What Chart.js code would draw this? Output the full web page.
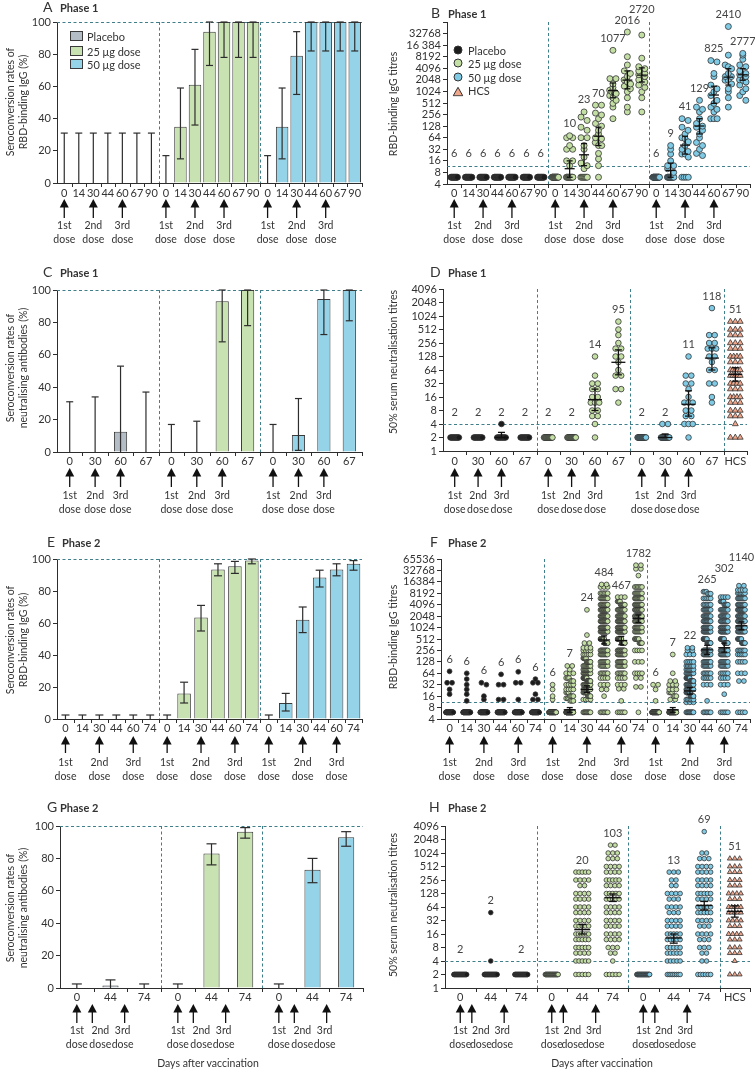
<!DOCTYPE html>
<html>
<head>
<meta charset="utf-8">
<title>Seroconversion rates and titres, phase 1 and phase 2</title>
<script src="https://cdn.jsdelivr.net/npm/chart.js@4.4.1/dist/chart.umd.min.js"></script>
<style>
  body { margin: 0; background: #fff; }
  #page { position: relative; width: 755px; height: 1072px; overflow: hidden; background: #fff;
          font-family: Lato, "Open Sans", "DejaVu Sans", sans-serif; color: #333; }
  #page canvas { position: absolute; left: 0; top: 0; }
  .lbl { position: absolute; white-space: nowrap; line-height: 1; transform: translate(0, -50%); font-size: 11px; }
  .ytitle { position: absolute; white-space: nowrap; line-height: 13px; text-align: center; font-size: 10.5px;
            transform: translate(-50%, -50%) rotate(-90deg); }
  .letter { font-size: 14px; }
  .phase { font-size: 11px; font-weight: bold; }
  .sw { position: absolute; width: 13px; height: 10px; border: 1px solid #3a3a3a; box-sizing: border-box; transform: translate(0, -50%); }
  .dot { position: absolute; width: 9px; height: 9px; border-radius: 50%; border: 1px solid #333; box-sizing: border-box; transform: translate(-50%, -50%); }
  .tri { position: absolute; transform: translate(-50%, -50%); }
</style>
</head>
<body>
<div id="page"></div>
<script>
// ---------- data ----------

// day labels
const daysP1Igg = ['0', '14', '30', '44', '60', '67', '90'];
const daysP1Nab = ['0', '30', '60', '67'];
const daysP2Igg = ['0', '14', '30', '44', '60', '74'];
const daysP2Nab = ['0', '44', '74'];

// A: phase 1 seroconversion, RBD-binding IgG (%), with 95% CI
const seroA_placebo = [0, 0, 0, 0, 0, 0, 0];
const seroA_placeboLo = [0, 0, 0, 0, 0, 0, 0];
const seroA_placeboHi = [31, 31, 31, 31, 31, 31, 31];
const seroA_25 = [0, 35, 61, 94, 100, 100, 100];
const seroA_25Lo = [0, 15, 36, 73, 78, 78, 78];
const seroA_25Hi = [17, 59, 83, 100, 100, 100, 100];
const seroA_50 = [0, 35, 79, 100, 100, 100, 100];
const seroA_50Lo = [0, 15, 55, 82, 82, 82, 82];
const seroA_50Hi = [17, 59, 94, 100, 100, 100, 100];

// C: phase 1 seroconversion, neutralising antibodies (%)
const seroC_placebo = [0, 0, 12.5, 0];
const seroC_placeboLo = [0, 0, 0, 0];
const seroC_placeboHi = [31, 34, 53, 37];
const seroC_25 = [0, 0, 93, 100];
const seroC_25Lo = [0, 0, 68, 78];
const seroC_25Hi = [17, 19, 100, 100];
const seroC_50 = [0, 10.5, 94.5, 100];
const seroC_50Lo = [0, 1, 72.5, 81];
const seroC_50Hi = [17, 33, 100, 100];

// E: phase 2 seroconversion, RBD-binding IgG (%)
const seroE_placebo = [0, 0, 0, 0, 0, 0];
const seroE_placeboLo = [0, 0, 0, 0, 0, 0];
const seroE_placeboHi = [2.5, 2.5, 2.5, 2.5, 2.5, 2.5];
const seroE_25 = [0, 16, 63.5, 93.5, 95.5, 99];
const seroE_25Lo = [0, 10, 55, 89.5, 91, 97];
const seroE_25Hi = [2.5, 23, 71, 97, 98.5, 100];
const seroE_50 = [0, 10, 62, 88.5, 93.5, 97];
const seroE_50Lo = [0, 5, 54, 82.5, 89.5, 93];
const seroE_50Hi = [2.5, 16, 70, 93, 97, 99];

// G: phase 2 seroconversion, neutralising antibodies (%)
const seroG_placebo = [0, 1.5, 0];
const seroG_placeboLo = [0, 0, 0];
const seroG_placeboHi = [2.5, 5, 2.5];
const seroG_25 = [0, 83, 96.5];
const seroG_25Lo = [0, 76, 92.5];
const seroG_25Hi = [2.5, 89, 99];
const seroG_50 = [0, 73, 93];
const seroG_50Lo = [0, 65, 87.5];
const seroG_50Hi = [2.5, 80, 96.5];

// individual titres as [titre, number of participants] per day
// B: phase 1 RBD-binding IgG titres
const titreB_placebo = [
  [[6, 10]], [[6, 10]], [[6, 10]], [[6, 10]], [[6, 10]], [[6, 10]], [[6, 10]]
];
const titreB_25 = [
  [[6, 20]],
  [[72, 1], [64, 2], [40, 1], [32, 2], [16, 2], [12, 1], [6, 11]],
  [[300, 1], [220, 1], [180, 1], [120, 1], [100, 1], [64, 2], [40, 1], [32, 1], [20, 1], [14, 1], [12, 1], [10, 1], [6, 7]],
  [[450, 2], [280, 1], [250, 1], [200, 1], [150, 1], [128, 1], [100, 1], [80, 1], [64, 1], [60, 1], [48, 1], [40, 2], [25, 1], [18, 1], [12, 1], [6, 1]],
  [[12000, 1], [2200, 2], [1600, 1], [1300, 1], [1100, 1], [1000, 2], [900, 1], [800, 1], [700, 1], [600, 1], [500, 1], [400, 1], [200, 1]],
  [[36000, 1], [8192, 1], [5000, 1], [3500, 1], [3000, 1], [2500, 1], [2048, 1], [1800, 1], [1600, 1], [1400, 1], [1200, 1], [1000, 1], [700, 1], [400, 1], [300, 1]],
  [[30000, 1], [7500, 1], [4500, 1], [4000, 1], [3500, 1], [3000, 1], [2800, 1], [2500, 1], [2048, 1], [1800, 1], [1500, 1], [1300, 1], [1000, 1], [700, 1], [300, 1]]
];
const titreB_50 = [
  [[6, 20]],
  [[40, 1], [32, 1], [24, 1], [16, 1], [12, 2], [10, 1], [8, 1], [6, 12]],
  [[200, 1], [180, 1], [120, 1], [100, 1], [80, 1], [64, 1], [60, 1], [50, 1], [40, 1], [32, 1], [28, 1], [24, 2], [20, 1], [6, 4]],
  [[600, 1], [400, 1], [350, 1], [300, 1], [200, 1], [150, 1], [128, 1], [120, 1], [100, 1], [80, 1], [64, 1], [48, 1], [40, 1], [32, 1], [25, 1], [22, 1]],
  [[6500, 1], [6000, 1], [3000, 1], [2500, 1], [1500, 1], [1200, 1], [1000, 1], [800, 1], [600, 1], [500, 1], [400, 1], [350, 1], [300, 1], [200, 3]],
  [[50000, 1], [9000, 1], [5000, 1], [4500, 1], [4000, 1], [3000, 1], [2500, 2], [2000, 2], [1600, 1], [1200, 1], [1000, 1], [700, 1], [400, 1]],
  [[10000, 1], [9000, 1], [7000, 1], [5000, 1], [4500, 1], [3500, 1], [3000, 1], [2800, 1], [2500, 1], [2048, 1], [2000, 1], [1800, 1], [1500, 1], [1200, 1], [1000, 1], [800, 1], [600, 1]]
];
const gmtB_placebo = [6, 6, 6, 6, 6, 6, 6];
const gmtB_25 = [null, 10, 23, 70, 1077, 2016, 2720];
const gmtB_50 = [6, 9, 41, 129, 825, 2410, 2777];
const ciB_25 = [null, [6, 16], [12, 45], [40, 120], [700, 1700], [1200, 3500], [1800, 4200]];
const ciB_50 = [null, [6, 14], [24, 70], [80, 200], [500, 1400], [1500, 4000], [2000, 4000]];

// D: phase 1 50% serum neutralisation titres
const titreD_placebo = [[[2, 10]], [[2, 10]], [[4, 1], [2, 9]], [[2, 10]]];
const titreD_25 = [
  [[2, 20]], [[2, 20]],
  [[128, 1], [48, 1], [32, 2], [24, 2], [16, 2], [12, 3], [8, 2], [6, 2], [4, 1], [2, 1]],
  [[768, 1], [512, 1], [384, 1], [256, 1], [192, 2], [128, 2], [96, 1], [64, 1], [48, 2], [24, 2], [12, 1]]
];
const titreD_50 = [
  [[2, 20]], [[4, 2], [2, 18]],
  [[128, 1], [48, 2], [32, 2], [24, 1], [16, 1], [12, 3], [8, 2], [6, 2], [4, 3], [2, 1]],
  [[1536, 1], [384, 2], [256, 2], [192, 3], [128, 2], [96, 1], [64, 2], [32, 2], [16, 1], [12, 1]]
];
const titreHCS = [[768, 3], [512, 3], [384, 3], [256, 3], [192, 3], [128, 4], [96, 3], [64, 5], [48, 5], [32, 4], [24, 3], [16, 4], [12, 3], [8, 3], [6, 3], [4, 1], [2, 3]];
const gmtD_placebo = [2, 2, 2, 2];
const gmtD_25 = [2, 2, 14, 95];
const gmtD_50 = [2, 2, 11, 118];
const ciD_placebo = [null, null, [2, 2.6], null];
const ciD_25 = [null, null, [8, 24], [50, 180]];
const ciD_50 = [null, [2, 2.4], [6, 22], [64, 200]];
const gmtHCS = 51;
const ciHCS = [36, 72];

// F: phase 2 RBD-binding IgG titres
const titreF_placebo = [
  [[72, 1], [36, 2], [24, 1], [18, 1], [6, 40]],
  [[64, 1], [45, 1], [32, 1], [24, 1], [18, 1], [12, 1], [6, 40]],
  [[36, 1], [32, 1], [16, 1], [13, 1], [6, 40]],
  [[60, 1], [32, 2], [13, 2], [6, 40]],
  [[70, 1], [36, 2], [13, 1], [6, 40]],
  [[45, 1], [36, 2], [18, 1], [13, 2], [6, 40]]
];
const titreF_25 = [
  [[32, 1], [24, 1], [16, 1], [13, 1], [6, 40]],
  [[100, 2], [80, 1], [64, 3], [48, 3], [40, 3], [32, 4], [24, 4], [20, 3], [16, 4], [14, 3], [12, 3], [6, 60]],
  [[3000, 1], [650, 1], [400, 2], [300, 3], [256, 4], [200, 5], [160, 6], [128, 8], [100, 9], [80, 10], [64, 12], [48, 12], [40, 12], [32, 12], [24, 10], [20, 8], [16, 6], [13, 4], [6, 10]],
  [[14000, 2], [12000, 3], [8192, 6], [6000, 8], [4096, 10], [3000, 12], [2048, 14], [1500, 14], [1024, 14], [800, 14], [512, 14], [400, 12], [256, 10], [200, 9], [128, 8], [100, 7], [64, 6], [48, 4], [32, 3], [24, 2], [16, 1], [6, 6]],
  [[6500, 3], [5000, 5], [4096, 8], [3000, 10], [2048, 12], [1500, 14], [1024, 14], [800, 14], [512, 14], [400, 12], [256, 12], [200, 10], [128, 9], [100, 7], [64, 6], [48, 4], [32, 3], [25, 2], [12, 1], [6, 5]],
  [[45000, 2], [36000, 2], [24000, 1], [12000, 6], [8192, 8], [6000, 10], [4096, 12], [3000, 12], [2048, 12], [1500, 10], [1024, 9], [800, 8], [512, 7], [400, 5], [256, 4], [128, 3], [64, 4], [48, 2], [28, 2], [6, 1]]
];
const titreF_50 = [
  [[32, 2], [24, 1], [12, 1], [6, 40]],
  [[200, 1], [64, 1], [40, 2], [32, 3], [24, 3], [20, 3], [16, 3], [13, 2], [6, 50]],
  [[300, 2], [256, 2], [200, 3], [128, 5], [100, 6], [80, 7], [64, 9], [48, 10], [40, 10], [32, 12], [24, 12], [20, 10], [16, 8], [13, 6], [11, 3], [6, 10]],
  [[9000, 3], [8000, 3], [6000, 5], [4096, 6], [3000, 8], [2048, 10], [1500, 10], [1024, 12], [800, 12], [512, 12], [400, 12], [256, 12], [200, 10], [128, 8], [100, 7], [64, 6], [48, 5], [32, 3], [12, 1], [6, 6]],
  [[6500, 4], [5000, 5], [4096, 6], [3000, 8], [2048, 10], [1500, 10], [1024, 12], [800, 12], [512, 12], [400, 12], [256, 10], [200, 9], [128, 8], [100, 7], [64, 5], [48, 4], [32, 3], [18, 1], [6, 5]],
  [[13000, 2], [10000, 4], [8192, 6], [6000, 8], [4096, 10], [3000, 12], [2048, 12], [1500, 12], [1024, 12], [800, 10], [512, 9], [400, 8], [256, 6], [200, 5], [128, 4], [64, 3], [40, 2], [6, 4]]
];
const gmtF_placebo = [6, 6, 6, 6, 6, 6];
const gmtF_25 = [6, 7, 24, 484, 467, 1782];
const gmtF_50 = [6, 7, 22, 265, 302, 1140];
const ciF_25 = [null, [6, 8], [20, 30], [380, 620], [360, 600], [1400, 2200]];
const ciF_50 = [null, [6, 8], [18, 27], [200, 350], [230, 400], [900, 1450]];

// H: phase 2 50% serum neutralisation titres
const titreH_placebo = [[[2, 30]], [[48, 1], [4, 1], [2, 30]], [[2, 30]]];
const titreH_25 = [
  [[2, 30]],
  [[384, 5], [256, 4], [192, 2], [128, 4], [96, 4], [64, 4], [48, 4], [32, 4], [24, 5], [16, 6], [12, 5], [8, 5], [6, 4], [4, 5], [2, 5]],
  [[1536, 2], [1024, 3], [768, 3], [512, 4], [384, 4], [256, 5], [192, 4], [128, 5], [96, 5], [64, 4], [48, 4], [32, 4], [24, 4], [16, 4], [12, 4], [8, 3], [6, 2], [4, 1], [2, 5]]
];
const titreH_50 = [
  [[2, 30]],
  [[384, 3], [256, 2], [192, 2], [128, 4], [96, 3], [64, 4], [48, 3], [32, 4], [24, 4], [16, 5], [12, 5], [8, 5], [6, 5], [4, 5], [2, 8]],
  [[3072, 1], [1024, 2], [768, 3], [512, 4], [384, 4], [256, 4], [192, 4], [128, 5], [96, 4], [64, 5], [48, 5], [32, 4], [24, 3], [16, 4], [12, 3], [8, 3], [6, 2], [4, 2], [2, 6]]
];
const gmtH_placebo = [2, 2, 2];
const gmtH_25 = [null, 20, 103];
const gmtH_50 = [null, 13, 69];
const ciH_25 = [null, [16, 26], [85, 125]];
const ciH_50 = [null, [10, 16], [55, 85]];

// axis ticks
const ticksIgg = [4, 8, 16, 32, 64, 128, 256, 512, 1024, 2048, 4096, 8192, 16384, 32768, 65536];
const ticksNab = [1, 2, 4, 8, 16, 32, 64, 128, 256, 512, 1024, 2048, 4096];

// ---------- styling ----------
const FONT = 'Lato, "Open Sans", "DejaVu Sans", sans-serif';
const INK = '#2d2d2d';
const DASH = '#3f7f8b';
const BAR_P = '#b4bdc5', BAR_25 = '#c9e2b1', BAR_50 = '#95d3e8';
const DOT_P = '#1c1c1c', DOT_25 = '#c4dfa4', DOT_50 = '#7fcbe6', DOT_HCS = '#f0a78b';
const YW = 40;
const ORD = ['1st', '2nd', '3rd'];
const ROWS = {
  1: {lab: 193, tip: 199, tail: 218, t1: 226, t2: 240},
  2: {lab: 461, tip: 468, tail: 487, t1: 496, t2: 510},
  3: {lab: 728, tip: 736, tail: 753, t1: 763, t2: 777},
  4: {lab: 997, tip: 1004, tail: 1023, t1: 1031, t2: 1045}
};

Chart.defaults.font.family = FONT;
Chart.defaults.color = '#333';

const page = document.getElementById('page');
const expand = pairs => pairs.flatMap(([v, n]) => Array(n).fill(v));

// beeswarm-style spread of equal titres around the category centre
function swarm(values, cat, bin, step, maxW) {
  const bins = {};
  values.forEach(v => {
    const k = Math.round(Math.log2(v) / bin);
    (bins[k] = bins[k] || []).push(v);
  });
  const pts = [];
  Object.values(bins).forEach(list => {
    const n = list.length;
    const s = n > 1 ? Math.min(step, maxW / (n - 1)) : 0;
    list.forEach((v, k) => pts.push({x: cat + (k - (n - 1) / 2) * s, y: v}));
  });
  return pts;
}

function seg(ctx, x0, y0, x1, y1) {
  ctx.beginPath(); ctx.moveTo(x0, y0); ctx.lineTo(x1, y1); ctx.stroke();
}

// dashed guides, x ticks, x labels and dose arrows shared by all panels
function decorPlugin(p, drawMarks) {
  const shift = p.textShift || [0, 0, 0];
  return {
    id: 'decor',
    beforeDatasetsDraw(chart) {
      const {ctx, chartArea: a, scales: {x, y}} = chart;
      ctx.save();
      ctx.strokeStyle = DASH; ctx.lineWidth = 1; ctx.setLineDash([3, 2.5]);
      p.separators.forEach(i => {
        const px = Math.round(x.getPixelForValue(i - 0.5)) + 0.5;
        seg(ctx, px, a.top, px, a.bottom);
      });
      const py = Math.round(y.getPixelForValue(p.refLine)) + 0.5;
      seg(ctx, a.left, py, a.right, py);
      ctx.restore();
    },
    afterDatasetsDraw(chart) { drawMarks(chart); },
    afterDraw(chart) {
      const {ctx, chartArea: a, scales: {x}} = chart;
      const r = p.row;
      ctx.save();
      ctx.strokeStyle = INK; ctx.fillStyle = '#333'; ctx.lineWidth = 1;
      p.labels.forEach((lab, i) => {
        const b = Math.round(x.getPixelForValue(i + 0.5)) + 0.5;
        seg(ctx, b, a.bottom, b, a.bottom + 4);
      });
      ctx.font = '11px ' + FONT; ctx.textAlign = 'center'; ctx.textBaseline = 'middle';
      p.labels.forEach((lab, i) => ctx.fillText(lab, x.getPixelForValue(i), r.lab));
      ctx.font = '10.5px ' + FONT;
      ctx.lineWidth = 1.3; ctx.fillStyle = '#111'; ctx.strokeStyle = '#111';
      for (let g = 0; g < 3; g++) {
        p.doseAt.forEach((c, k) => {
          const cx = x.getPixelForValue(g * p.groupSize + c);
          seg(ctx, cx, r.tail, cx, r.tip + 6);
          ctx.beginPath(); ctx.moveTo(cx, r.tip); ctx.lineTo(cx - 4.5, r.tip + 8.5); ctx.lineTo(cx + 4.5, r.tip + 8.5);
          ctx.closePath(); ctx.fill();
          ctx.fillStyle = '#333';
          ctx.fillText(ORD[k], cx + shift[k], r.t1);
          ctx.fillText('dose', cx + shift[k], r.t2);
          ctx.fillStyle = '#111';
        });
      }
      ctx.restore();
    }
  };
}

function newCanvas() {
  const cv = document.createElement('canvas');
  cv.width = 755; cv.height = 1072;
  page.appendChild(cv);
  return cv;
}

function baseOptions(area, xScale, yScale) {
  return {
    responsive: false, animation: false, devicePixelRatio: 1, events: [],
    layout: {padding: {left: area.l - YW, top: area.t, right: 755 - area.r, bottom: 1072 - area.b}},
    plugins: {legend: {display: false}, tooltip: {enabled: false}},
    scales: {x: xScale, y: yScale}
  };
}

function yAxisCommon() {
  return {
    grid: {display: true, drawOnChartArea: false, drawTicks: true, tickLength: 4, color: INK, lineWidth: 1},
    border: {display: true, color: INK, width: 1},
    afterFit: s => { s.width = YW; }
  };
}

// ---------- bar panels (A, C, E, G) ----------
function barPanel(p) {
  const labels = [...p.days, ...p.days, ...p.days];
  const vals = [], lo = [], hi = [], colors = [];
  p.groups.forEach(g => {
    vals.push(...g.val); lo.push(...g.lo); hi.push(...g.hi);
    g.val.forEach(() => colors.push(g.color));
  });
  const drawErr = chart => {
    const {ctx, scales: {x, y}} = chart;
    ctx.save(); ctx.strokeStyle = INK; ctx.lineWidth = 1.2;
    lo.forEach((l, i) => {
      const cx = x.getPixelForValue(i);
      const y0 = y.getPixelForValue(l), y1 = y.getPixelForValue(hi[i]);
      seg(ctx, cx, y0, cx, y1);
      seg(ctx, cx - p.cap, y1, cx + p.cap, y1);
      if (l > 0) seg(ctx, cx - p.cap, y0, cx + p.cap, y0);
    });
    ctx.restore();
  };
  const deco = {labels, separators: [p.days.length, 2 * p.days.length], refLine: 100,
                row: p.row, doseAt: p.doseAt, groupSize: p.days.length, textShift: p.textShift};
  const yScale = Object.assign(yAxisCommon(), {
    type: 'linear', min: 0, max: 100,
    ticks: {stepSize: 20, color: '#333', font: {size: 11}, padding: 2}
  });
  const xScale = {
    type: 'category', labels, offset: true,
    grid: {display: false}, ticks: {display: false},
    border: {display: true, color: INK, width: 1},
    afterFit: s => { s.height = 0; }
  };
  new Chart(newCanvas(), {
    type: 'bar',
    data: {labels, datasets: [{
      data: vals, backgroundColor: colors, borderColor: '#3a3a3a', borderWidth: 1,
      barPercentage: p.barPct, categoryPercentage: 1, borderSkipped: 'bottom'
    }]},
    options: baseOptions(p.area, xScale, yScale),
    plugins: [decorPlugin(deco, drawErr)]
  });
}

// ---------- titre panels (B, D, F, H) ----------
function dotPanel(p) {
  const cats = [];
  p.groups.forEach(g => {
    g.titres.forEach((pairs, d) => cats.push({
      values: expand(pairs), color: Array.isArray(g.color) ? g.color[d] : g.color,
      gmt: g.gmt[d], ci: g.ci ? g.ci[d] : null, style: 'circle'
    }));
  });
  if (p.hcs) cats.push({values: expand(p.hcs.titres), color: DOT_HCS, gmt: p.hcs.gmt, ci: p.hcs.ci, style: 'triangle'});
  const labels = cats.map((c, i) => i < 3 * p.days.length ? p.days[i % p.days.length] : 'HCS');
  const datasets = cats.map((c, i) => ({
    data: swarm(c.values, i, p.bin, c.style === 'triangle' ? p.triStep : p.step, c.style === 'triangle' ? p.triW : p.maxW),
    pointStyle: c.style, pointRadius: c.style === 'triangle' ? p.r + 0.6 : p.r,
    pointBackgroundColor: c.color, pointBorderColor: '#333', pointBorderWidth: 0.8,
    showLine: false, clip: false
  }));
  const drawGmt = chart => {
    const {ctx, scales: {x, y}} = chart;
    ctx.save();
    ctx.strokeStyle = '#111'; ctx.lineWidth = 1.3;
    ctx.fillStyle = '#444'; ctx.font = '11px ' + FONT; ctx.textAlign = 'center'; ctx.textBaseline = 'middle';
    const cutPix = y.getPixelForValue(p.cutoff);
    let prev = null;
    cats.forEach((c, i) => {
      const cx = x.getPixelForValue(i);
      let top = Math.min(y.getPixelForValue(Math.max(...c.values)), cutPix);
      if (c.ci) {
        const yg = y.getPixelForValue(c.gmt);
        const y0 = y.getPixelForValue(c.ci[0]), y1 = y.getPixelForValue(c.ci[1]);
        seg(ctx, cx - p.meanW, yg, cx + p.meanW, yg);
        seg(ctx, cx, y0, cx, y1);
        seg(ctx, cx - p.cap, y0, cx + p.cap, y0);
        seg(ctx, cx - p.cap, y1, cx + p.cap, y1);
        top = Math.min(top, y1);
      }
      if (c.gmt == null) { prev = null; return; }
      const txt = String(c.gmt);
      const w = ctx.measureText(txt).width;
      let ty = top - 12;
      // lift a label that would collide with its left neighbour
      if (prev && cx - w / 2 < prev.right + 1 && Math.abs(ty - prev.y) < 10) ty = prev.y - 11;
      ctx.fillText(txt, cx, ty);
      prev = {right: cx + w / 2, y: ty};
    });
    ctx.restore();
  };
  const seps = [p.days.length, 2 * p.days.length];
  if (p.hcs) seps.push(3 * p.days.length);
  const deco = {labels, separators: seps, refLine: p.cutoff, row: p.row, doseAt: p.doseAt,
                groupSize: p.days.length, textShift: p.textShift};
  const yScale = Object.assign(yAxisCommon(), {
    type: 'logarithmic', min: p.yTicks[0], max: p.yTicks[p.yTicks.length - 1],
    afterBuildTicks: s => { s.ticks = p.yTicks.map(v => ({value: v})); },
    ticks: {color: '#333', font: {size: 11}, padding: 2, autoSkip: false, callback: p.fmt}
  });
  const xScale = {
    type: 'linear', min: -0.5, max: cats.length - 0.5,
    grid: {display: false}, ticks: {display: false},
    border: {display: true, color: INK, width: 1},
    afterFit: s => { s.height = 0; }
  };
  new Chart(newCanvas(), {
    type: 'scatter',
    data: {datasets},
    options: baseOptions(p.area, xScale, yScale),
    plugins: [decorPlugin(deco, drawGmt)]
  });
}

// ---------- panels ----------
barPanel({
  area: {l: 57, t: 22, r: 362, b: 183}, row: ROWS[1], days: daysP1Igg, doseAt: [0, 2, 4],
  barPct: 0.86, cap: 3.5,
  groups: [
    {val: seroA_placebo, lo: seroA_placeboLo, hi: seroA_placeboHi, color: BAR_P},
    {val: seroA_25, lo: seroA_25Lo, hi: seroA_25Hi, color: BAR_25},
    {val: seroA_50, lo: seroA_50Lo, hi: seroA_50Hi, color: BAR_50}
  ]
});

barPanel({
  area: {l: 57, t: 290, r: 362, b: 452}, row: ROWS[2], days: daysP1Nab, doseAt: [0, 1, 2],
  barPct: 0.52, cap: 3.5,
  groups: [
    {val: seroC_placebo, lo: seroC_placeboLo, hi: seroC_placeboHi, color: BAR_P},
    {val: seroC_25, lo: seroC_25Lo, hi: seroC_25Hi, color: BAR_25},
    {val: seroC_50, lo: seroC_50Lo, hi: seroC_50Hi, color: BAR_50}
  ]
});

barPanel({
  area: {l: 57, t: 559, r: 362, b: 719}, row: ROWS[3], days: daysP2Igg, doseAt: [0, 2, 4],
  barPct: 0.8, cap: 4,
  groups: [
    {val: seroE_placebo, lo: seroE_placeboLo, hi: seroE_placeboHi, color: BAR_P},
    {val: seroE_25, lo: seroE_25Lo, hi: seroE_25Hi, color: BAR_25},
    {val: seroE_50, lo: seroE_50Lo, hi: seroE_50Hi, color: BAR_50}
  ]
});

barPanel({
  area: {l: 60, t: 826, r: 363, b: 988}, row: ROWS[4], days: daysP2Nab, doseAt: [0, 0.46, 1.42],
  textShift: [0, 8, -2],
  barPct: 0.48, cap: 5,
  groups: [
    {val: seroG_placebo, lo: seroG_placeboLo, hi: seroG_placeboHi, color: BAR_P},
    {val: seroG_25, lo: seroG_25Lo, hi: seroG_25Hi, color: BAR_25},
    {val: seroG_50, lo: seroG_50Lo, hi: seroG_50Hi, color: BAR_50}
  ]
});

dotPanel({
  area: {l: 447, t: 22, r: 750, b: 184}, row: ROWS[1], days: daysP1Igg, doseAt: [0, 2, 4],
  yTicks: ticksIgg, cutoff: 11.8,
  fmt: v => v === 65536 ? '' : v === 16384 ? '16 384' : String(v),
  r: 3, step: 0.42, maxW: 0.45, bin: 0.45, meanW: 5, cap: 3,
  groups: [
    {titres: titreB_placebo, color: DOT_P, gmt: gmtB_placebo},
    {titres: titreB_25, color: DOT_25, gmt: gmtB_25, ci: ciB_25},
    {titres: titreB_50, color: DOT_50, gmt: gmtB_50, ci: ciB_50}
  ]
});

dotPanel({
  area: {l: 443, t: 289, r: 747, b: 451}, row: ROWS[2], days: daysP1Nab, doseAt: [0, 1, 2],
  yTicks: ticksNab, cutoff: 4, fmt: v => String(v),
  r: 2.8, step: 0.24, maxW: 0.36, bin: 0.1, meanW: 7, cap: 3.5, triStep: 0.24, triW: 0.42,
  groups: [
    {titres: titreD_placebo, color: DOT_P, gmt: gmtD_placebo, ci: ciD_placebo},
    {titres: titreD_25, color: DOT_25, gmt: gmtD_25, ci: ciD_25},
    {titres: titreD_50, color: DOT_50, gmt: gmtD_50, ci: ciD_50}
  ],
  hcs: {titres: titreHCS, gmt: gmtHCS, ci: ciHCS}
});

dotPanel({
  area: {l: 441, t: 559, r: 750, b: 719}, row: ROWS[3], days: daysP2Igg, doseAt: [0, 2, 4],
  yTicks: ticksIgg, cutoff: 11.3, fmt: v => String(v),
  r: 2.4, step: 0.29, maxW: 0.42, bin: 0.42, meanW: 6, cap: 3,
  groups: [
    {titres: titreF_placebo, color: DOT_P, gmt: gmtF_placebo},
    {titres: titreF_25, color: DOT_25, gmt: gmtF_25, ci: ciF_25},
    {titres: titreF_50, color: [DOT_25, DOT_25, DOT_50, DOT_50, DOT_50, DOT_50], gmt: gmtF_50, ci: ciF_50}
  ]
});

dotPanel({
  area: {l: 445, t: 826, r: 750, b: 988}, row: ROWS[4], days: daysP2Nab, doseAt: [0, 0.38, 1.44],
  textShift: [0, 9, -2],
  yTicks: ticksNab, cutoff: 4, fmt: v => String(v),
  r: 2.3, step: 0.15, maxW: 0.42, bin: 0.1, meanW: 8, cap: 4, triStep: 0.16, triW: 0.4,
  groups: [
    {titres: titreH_placebo, color: DOT_P, gmt: gmtH_placebo},
    {titres: titreH_25, color: DOT_25, gmt: gmtH_25, ci: ciH_25},
    {titres: titreH_50, color: DOT_50, gmt: gmtH_50, ci: ciH_50}
  ],
  hcs: {titres: titreHCS, gmt: gmtHCS, ci: [38, 68]}
});

// ---------- text: titles, axis titles, legends ----------
function addText(html, x, y, cls, css) {
  const d = document.createElement('div');
  d.className = cls || 'lbl';
  d.innerHTML = html;
  d.style.left = x + 'px'; d.style.top = y + 'px';
  if (css) Object.assign(d.style, css);
  page.appendChild(d);
  return d;
}

[
  ['A', 'Phase 1', 43, 60, 7], ['B', 'Phase 1', 431, 448, 13],
  ['C', 'Phase 1', 43, 60, 272], ['D', 'Phase 1', 430, 448, 272],
  ['E', 'Phase 2', 47, 62, 542], ['F', 'Phase 2', 430, 448, 542],
  ['G', 'Phase 2', 47, 60, 807], ['H', 'Phase 2', 429, 448, 807]
].forEach(([letter, phase, lx, px, y]) => {
  addText(letter, lx, y, 'lbl letter');
  addText(phase, px, y, 'lbl phase');
});

addText('Seroconversion rates of<br>RBD-binding IgG (%)', 17, 102, 'ytitle');
addText('Seroconversion rates of<br>neutralising antibodies (%)', 17, 368, 'ytitle');
addText('Seroconversion rates of<br>RBD-binding IgG (%)', 17, 640, 'ytitle');
addText('Seroconversion rates of<br>neutralising antibodies (%)', 17, 908, 'ytitle');
addText('RBD-binding IgG titres', 393, 104, 'ytitle');
addText('50% serum neutralisation titres', 393, 362, 'ytitle');
addText('RBD-binding IgG titres', 393, 637, 'ytitle');
addText('50% serum neutralisation titres', 393, 905, 'ytitle');

addText('Days after vaccination', 208, 1063, 'lbl', {transform: 'translate(-50%, -50%)', fontSize: '10.5px'});
addText('Days after vaccination', 602, 1063, 'lbl', {transform: 'translate(-50%, -50%)', fontSize: '10.5px'});

// legend A
[['Placebo', BAR_P, 36], ['25 μg dose', BAR_25, 51], ['50 μg dose', BAR_50, 64]].forEach(([t, c, y]) => {
  addText('', 70, y, 'sw', {background: c});
  addText(t, 87, y, 'lbl');
});

// legend B
[['Placebo', DOT_P, 50], ['25 μg dose', DOT_25, 63], ['50 μg dose', DOT_50, 77]].forEach(([t, c, y]) => {
  addText('', 458, y, 'dot', {background: c});
  addText(t, 468, y, 'lbl');
});
addText('<svg width="11" height="10"><polygon points="5.5,0.8 10.3,9.3 0.7,9.3" fill="' + DOT_HCS +
        '" stroke="#333" stroke-width="1"/></svg>', 458, 90, 'tri');
addText('HCS', 468, 90, 'lbl');
</script>
</body>
</html>
